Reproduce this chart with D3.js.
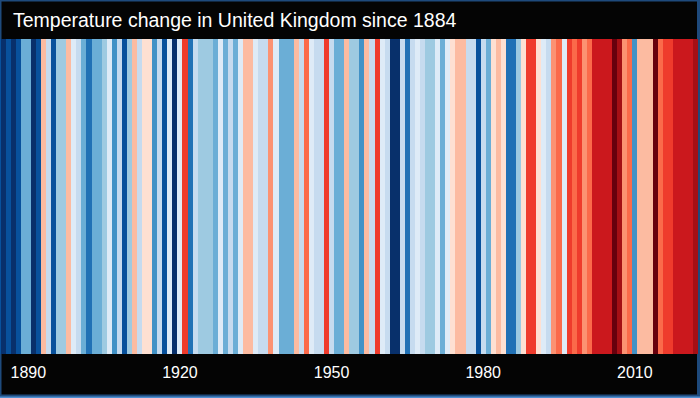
<!DOCTYPE html>
<html>
<head>
<meta charset="utf-8">
<script src="https://cdn.jsdelivr.net/npm/d3@7"></script>
<style>
  html, body { margin: 0; padding: 0; background: #000; }
  svg { display: block; }
</style>
</head>
<body>
<svg id="chart" width="700" height="398"></svg>
<script>
// years shown in the stripes
const firstYear = 1884;
const lastYear = 2022;
const years = d3.range(firstYear, lastYear + 1);

// temperature anomaly per year (deg C)
const anomalies = [
  -1.3, -1.5, -1.3, -1.5, -1.3, -0.7, -0.7, -1.5, -1.3, 0.3,   // 1884-1893
  -0.3, -1.3, -0.5, -0.5, 0.3, -0.1, -0.3, -0.7, -1.1, -0.7,   // 1894-1903
  -0.7, -0.5, -0.1, -0.9, -0.3, -1.3, -0.5, 0.3, -0.3, 0.1,    // 1904-1913
  0.1, -0.9, -0.3, -1.3, -0.1, -1.5, -0.1, 0.9, -1.1, -0.3,    // 1914-1923
  -0.5, -0.5, -0.5, -0.7, -0.1, -0.7, -0.3, -0.7, -0.1, 0.3,   // 1924-1933
  0.3, -0.1, -0.3, -0.3, 0.5, -0.1, -0.7, -0.7, -0.7, 0.3,     // 1934-1943
  -0.3, 0.7, -0.1, -0.3, -0.3, 0.9, -0.3, -0.7, -0.7, 0.3,     // 1944-1953
  -0.5, -0.5, -0.9, 0.3, -0.3, 0.9, -0.1, -0.3, -1.5, -1.5,    // 1954-1963
  -0.3, -1.1, -0.3, -0.1, -0.3, -0.5, -0.5, -0.1, -0.7, -0.1,  // 1964-1973
  0.1, 0.3, 0.3, -0.3, -0.3, -1.3, -0.3, -0.7, 0.1, 0.3,       // 1974-1983
  0.1, -1.1, -1.1, -0.5, 0.1, 0.9, 0.9, 0.1, -0.1, -0.3,       // 1984-1993
  0.5, 0.7, -0.1, 0.9, 0.7, 0.9, 0.5, 0.7, 1.1, 1.1,           // 1994-2003
  1.1, 1.1, 1.5, 1.3, 0.5, 0.7, -0.9, 0.3, 0.3, 0.3,           // 2004-2013
  1.5, 0.7, 0.9, 0.9, 1.1, 1.1, 1.1, 1.1, 1.3                  // 2014-2022
];

// colour steps of the warming stripes, coldest to warmest
const stripeColors = [
  "#08306b", "#08519c", "#2171b5", "#4292c6",
  "#6baed6", "#9ecae1", "#c6dbef", "#deebf7",
  "#fee0d2", "#fcbba1", "#fc9272", "#fb6a4a",
  "#ef3b2c", "#cb181d", "#a50f15", "#67000d"
];

// labelled years along the bottom
const tickYears = [1890, 1920, 1950, 1980, 2010];

const titleText = "Temperature change in United Kingdom since 1884";

const data = years.map((y, i) => ({ year: y, value: anomalies[i] }));

const svg = d3.select("#chart"),
      width = +svg.attr("width"),
      height = +svg.attr("height");

const stripeTop = 39,
      stripeBottom = 354;

// black card with a thin blue frame
svg.append("rect")
   .attr("x", 0).attr("y", 0)
   .attr("width", width).attr("height", height)
   .attr("fill", "#1e4a7c");
svg.append("rect")
   .attr("x", 1.5).attr("y", 1.5)
   .attr("width", width - 4.5).attr("height", height - 5)
   .attr("fill", "#040404");
svg.append("rect")
   .attr("x", 0).attr("y", height - 1.5)
   .attr("width", width).attr("height", 1.5)
   .attr("fill", "#4f8fd0");

// one band per year
const x = d3.scaleBand()
            .domain(years)
            .range([-4.5, 698])
            .padding(0);

const colour = d3.scaleQuantize()
                 .domain([-1.6, 1.6])
                 .range(stripeColors);

svg.append("g")
   .selectAll("rect")
   .data(data)
   .enter()
   .append("rect")
   .attr("x", d => x(d.year))
   .attr("y", stripeTop)
   .attr("width", x.bandwidth() + 0.4)
   .attr("height", stripeBottom - stripeTop)
   .attr("fill", d => colour(d.value))
   .attr("shape-rendering", "crispEdges");

// title
svg.append("text")
   .attr("x", 13)
   .attr("y", 27)
   .attr("fill", "#ffffff")
   .style("font-family", "'Liberation Sans', Arial, Helvetica, sans-serif")
   .style("font-size", "19.5px")
   .text(titleText);

// year labels, drawn with an axis at the bottom
const axis = d3.axisBottom(x)
               .tickValues(tickYears)
               .tickSize(0)
               .tickPadding(0);

const axisG = svg.append("g")
                 .attr("transform", `translate(0,${stripeBottom})`)
                 .call(axis);
axisG.select(".domain").remove();
axisG.selectAll("text")
     .attr("y", 23.5)
     .attr("dy", 0)
     .attr("fill", "#ffffff")
     .style("font-family", "'Liberation Sans', Arial, Helvetica, sans-serif")
     .style("font-size", "16px");
</script>
</body>
</html>
